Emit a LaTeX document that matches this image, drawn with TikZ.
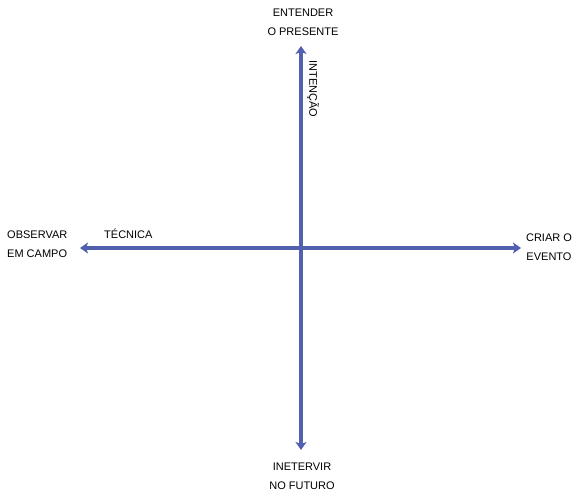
\documentclass[tikz,border=0pt]{standalone}
\usepackage{fontspec}
\setmainfont{Liberation Sans}
\usetikzlibrary{arrows.meta}
\definecolor{axisblue}{RGB}{82,96,176}
\tikzset{
  axis/.style={line width=3.6pt, axisblue, {Stealth[length=8pt,width=11pt,inset=2pt]}-{Stealth[length=8pt,width=11pt,inset=2pt]}},
  lbl/.style={font=\fontsize{11}{19}\selectfont, align=center, inner sep=0pt}
}
\begin{document}
\begin{tikzpicture}[x=1pt,y=1pt]
  \useasboundingbox (0,0) rectangle (575,492);
  % ends of the two axes
  \coordinate (top) at (301,446);
  \coordinate (bottom) at (301,42);
  \coordinate (left) at (80,244);
  \coordinate (right) at (521,244);
  % labels
  \node[lbl] (entender) at (303,470) {ENTENDER\\O PRESENTE};
  \node[lbl] (intervir) at (302,16) {INETERVIR\\NO FUTURO};
  \node[lbl, anchor=west, align=left] (observar) at (7,248) {OBSERVAR\\EM CAMPO};
  \node[lbl] (criar) at (549,245) {CRIAR O\\EVENTO};
  \node[lbl, anchor=west] (tecnica) at (104,258) {TÉCNICA};
  \node[lbl, rotate=-90] (intencao) at (313,403) {INTENÇÃO};
  % axes
  \draw[axis] (bottom) -- (top);
  \draw[axis] (left) -- (right);
\end{tikzpicture}
\end{document}
